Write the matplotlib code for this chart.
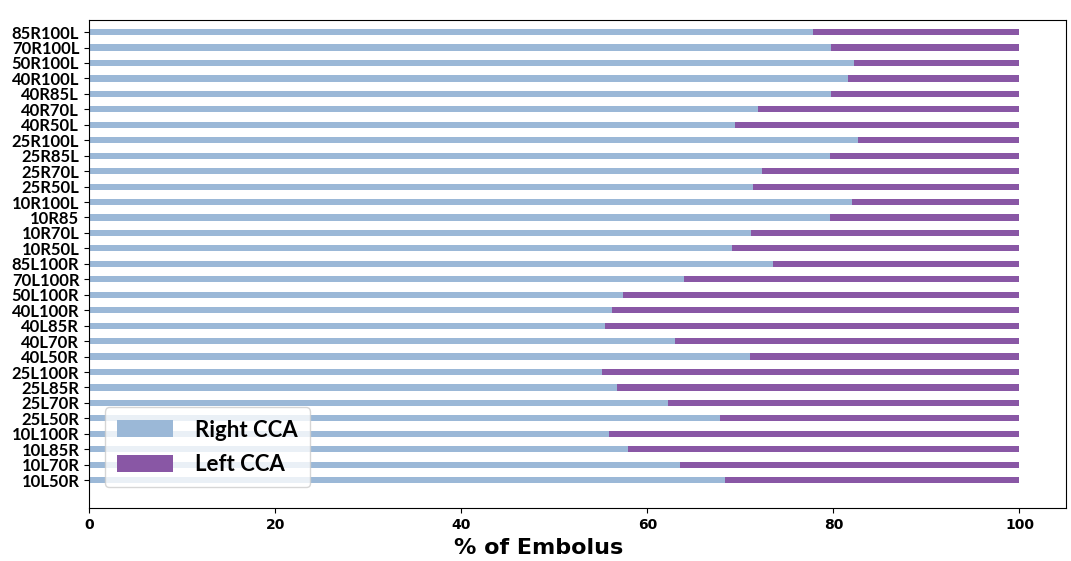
import matplotlib
matplotlib.use("Agg")
import matplotlib.pyplot as plt

# categories listed top to bottom as in the figure
CASES = ["85R100L", "70R100L", "50R100L", "40R100L", "40R85L", "40R70L", "40R50L",
         "25R100L", "25R85L", "25R70L", "25R50L", "10R100L", "10R85", "10R70L",
         "10R50L", "85L100R", "70L100R", "50L100R", "40L100R", "40L85R", "40L70R",
         "40L50R", "25L100R", "25L85R", "25L70R", "25L50R", "10L100R", "10L85R",
         "10L70R", "10L50R"]
RIGHT_CCA = [77.8, 79.7, 82.2, 81.6, 79.8, 71.9, 69.4,
             82.6, 79.6, 72.3, 71.4, 82.0, 79.6, 71.2,
             69.1, 73.5, 63.9, 57.4, 56.2, 55.5, 63.0,
             71.0, 55.1, 56.8, 62.2, 67.8, 55.9, 57.9,
             63.5, 68.4]
LEFT_CCA = [100 - r for r in RIGHT_CCA]

BLUE, PURPLE = "#9BB8D7", "#8957A5"

fig = plt.figure(figsize=(10.71, 5.61), dpi=100)
ax = fig.add_axes([0.0831, 0.0945, 0.9122, 0.8698])

y = list(range(len(CASES)))
ax.barh(y, RIGHT_CCA, height=0.4, color=BLUE, label="Right CCA")
ax.barh(y, LEFT_CCA, left=RIGHT_CCA, height=0.4, color=PURPLE, label="Left CCA")

ax.set_yticks(y)
ax.set_yticklabels(CASES, fontsize=12, fontweight="bold", family="Lato")
ax.set_ylim(30.8, -0.78)
ax.set_xlim(0, 105)
ax.set_xticks([0, 20, 40, 60, 80, 100])
for lbl in ax.get_xticklabels():
    lbl.set_fontweight("bold")
    lbl.set_fontsize(10)
ax.set_xlabel("% of Embolus", fontsize=16, fontweight="bold")
ax.xaxis.set_label_coords(0.46, -0.062)

ax.legend(loc="lower left", bbox_to_anchor=(0.005, 0.02),
          prop={"family": "Lato", "weight": "bold", "size": 16},
          handlelength=2.5, handleheight=0.8, handletextpad=1.0,
          labelspacing=0.6, borderpad=0.55, framealpha=0.8)

fig.savefig("out.png", dpi=100)
